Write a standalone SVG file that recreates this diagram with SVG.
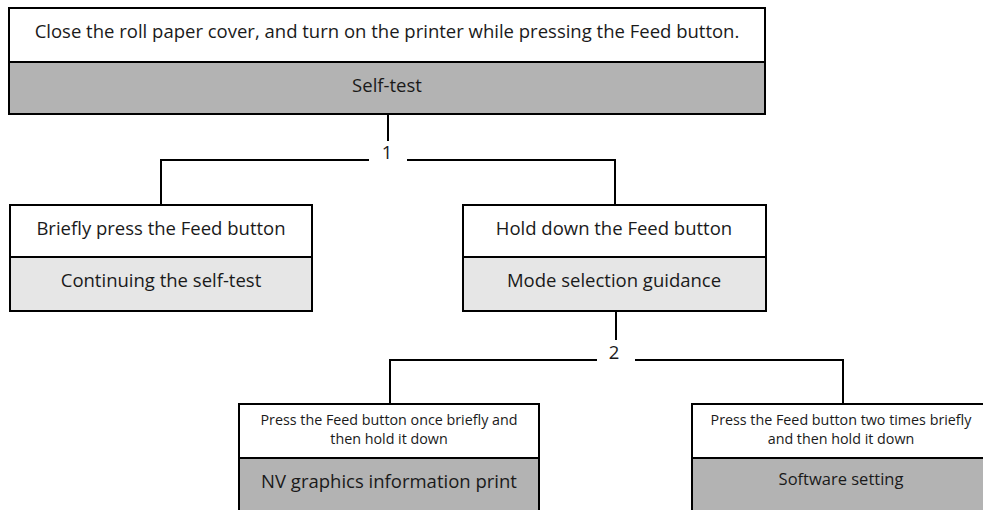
<svg xmlns="http://www.w3.org/2000/svg" width="983" height="510" viewBox="0 0 983 510">
<style>
text{font-family:"Open Sans","Liberation Sans",sans-serif;fill:#1a1a1a;text-anchor:middle}
.b{stroke:#000;stroke-width:2;fill:#fff}
.d{stroke:#000;stroke-width:2;fill:#b3b3b3}
.l{stroke:#000;stroke-width:2;fill:#e6e6e6}
.c{stroke:#000;stroke-width:2;fill:none}
.t16{font-size:18.5px}
.t12{font-size:14.3px}
</style>
<rect width="983" height="510" fill="#fff"/>
<g id="connectors">
<path class="c" d="M388 114V141M161 205V160H369M407 160H615V205"/>
<path class="c" d="M616 311V340M390 404V360H597M635 360H843V404"/>
<text x="387" y="159" class="t16">1</text>
<text x="614" y="359" class="t16">2</text>
</g>
<g id="n-top">
<rect class="b" x="9" y="8" width="756" height="54"/>
<rect class="d" x="9" y="62" width="756" height="52"/>
<text x="387" y="38" class="t16">Close the roll paper cover, and turn on the printer while pressing the Feed button.</text>
<text x="387" y="92" class="t16">Self-test</text>
</g>
<g id="n-brief">
<rect class="b" x="10" y="205" width="302" height="52"/>
<rect class="l" x="10" y="257" width="302" height="54"/>
<text x="161" y="235" class="t16">Briefly press the Feed button</text>
<text x="161" y="287" class="t16">Continuing the self-test</text>
</g>
<g id="n-hold">
<rect class="b" x="463" y="205" width="303" height="52"/>
<rect class="l" x="463" y="257" width="303" height="54"/>
<text x="614" y="235" class="t16">Hold down the Feed button</text>
<text x="614" y="287" class="t16">Mode selection guidance</text>
</g>
<g id="n-nv">
<rect class="b" x="239" y="404" width="300" height="54"/>
<rect class="d" x="239" y="458" width="300" height="60"/>
<text x="389" y="425" class="t12">Press the Feed button once briefly and</text>
<text x="389" y="444" class="t12">then hold it down</text>
<text x="389" y="488" class="t16">NV graphics information print</text>
</g>
<g id="n-sw">
<rect class="b" x="692" y="404" width="298" height="54"/>
<rect class="d" x="692" y="458" width="298" height="60"/>
<text x="841" y="425" class="t12">Press the Feed button two times briefly</text>
<text x="841" y="444" class="t12">and then hold it down</text>
<text x="841" y="485" style="font-size:16.5px">Software setting</text>
</g>
</svg>
